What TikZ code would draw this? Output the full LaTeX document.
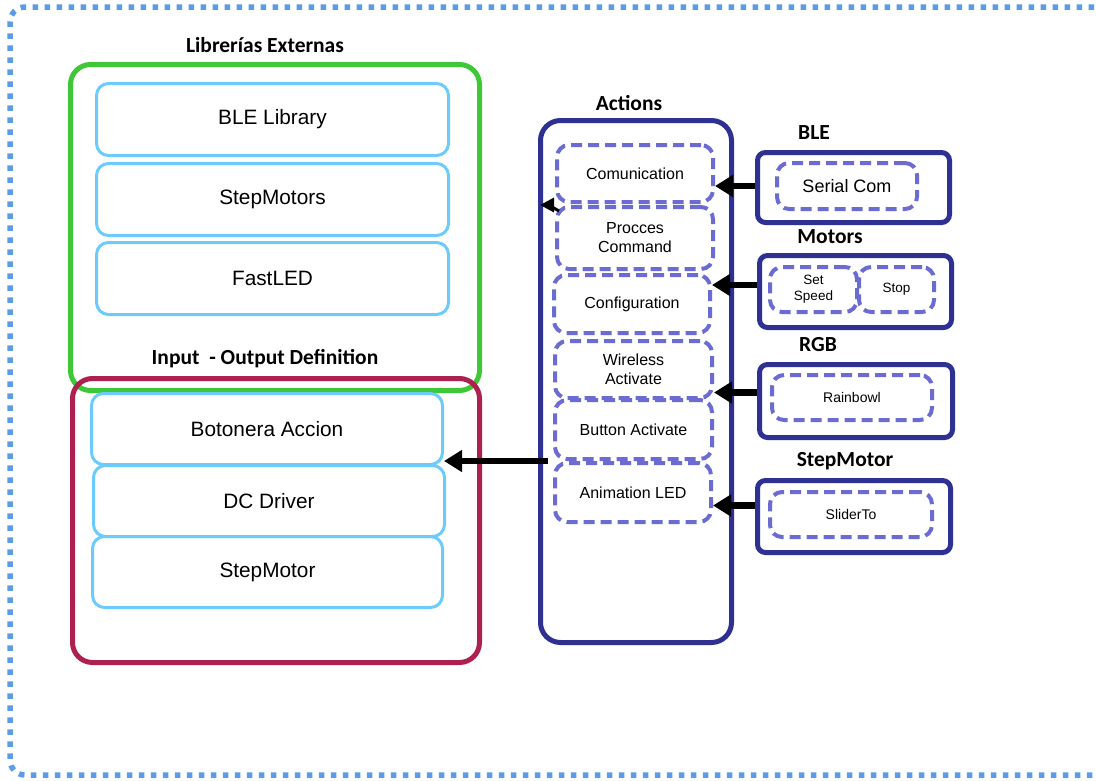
\documentclass[tikz,border=0pt]{standalone}
\usepackage{fontspec}
\setmainfont{Liberation Sans}
\newfontfamily\headfont{Carlito}
\usetikzlibrary{arrows.meta}
\definecolor{frameblue}{HTML}{5B9BE8}
\definecolor{libgreen}{HTML}{3EC838}
\definecolor{boxblue}{HTML}{6CCBFA}
\definecolor{iomaroon}{HTML}{AD2150}
\definecolor{navy}{HTML}{2E3192}
\definecolor{dashpurple}{HTML}{6B6BD2}
\begin{document}
\begin{tikzpicture}[x=1pt,y=-1pt,
  heading/.style={font=\headfont\bfseries\fontsize{21.5}{24}\selectfont},
  groupbox/.style={draw=#1, line width=5pt, rounded corners=20pt, anchor=north west},
  libbox/.style={draw=boxblue, line width=3pt, rounded corners=12pt, anchor=north west,
    minimum width=352pt, minimum height=72pt, font=\fontsize{20.8}{24}\selectfont},
  actbox/.style={draw=dashpurple, dash pattern=on 11pt off 6pt, line width=4pt,
    rounded corners=12pt, anchor=north west, align=center, inner sep=0pt,
    font=\fontsize{16}{19}\selectfont},
  srcbox/.style={draw=navy, line width=5pt, rounded corners=8pt, anchor=north west,
    minimum width=192pt, minimum height=70pt},
  link/.style={-{Triangle[length=18pt,width=21pt]}, line width=6.5pt, draw=black},
  small link/.style={-{Triangle[length=14pt,width=14pt]}, line width=3pt, draw=black}
]
\useasboundingbox (0,0) rectangle (1096,780);

% dotted frame round the whole drawing
\draw[frameblue, line width=5.5pt, dash pattern=on 5.5pt off 6.5pt, rounded corners=15pt]
  (1130,7) -- (10,7) -- (10,775) -- (1130,775);

% external libraries
\node[heading] (libtitle) at (265,45) {Librerías Externas};
\node[groupbox=libgreen, minimum width=409pt, minimum height=326pt] (libs) at (68,62) {};
\node[libbox] (blelib) at (95,82) {BLE Library};
\node[libbox] (stepmotors) at (95,162) {StepMotors};
\node[libbox] (fastled) at (95,241) {FastLED};

% input / output definition
\node[heading] (iotitle) at (265,359) {Input\ \ - Output Definition};
\node[groupbox=iomaroon, minimum width=407pt, minimum height=284pt] (io) at (70,376) {};
\node[libbox, minimum width=351pt, minimum height=71pt] (botonera) at (90,392) {Botonera Accion};
\node[libbox, minimum width=351pt, minimum height=71pt] (dcdriver) at (92,464) {DC Driver};
\node[libbox, minimum width=350pt, minimum height=71pt] (stepmotor) at (91,535) {StepMotor};

% actions
\node[heading] (acttitle) at (629,103) {Actions};
\node[groupbox=navy, minimum width=191pt, minimum height=522pt] (actions) at (538,118) {};
\node[actbox, minimum width=156pt, minimum height=57pt] (comm) at (555,143) {Comunication};
\node[actbox, minimum width=156pt, minimum height=62pt] (proc) at (555,205) {Procces\\Command};
\node[actbox, minimum width=156pt, minimum height=58pt] (config) at (552,273) {Configuration};
\node[actbox, minimum width=157pt, minimum height=57pt] (wireless) at (553,339) {Wireless\\Activate};
\node[actbox, minimum width=157pt, minimum height=59pt] (btnact) at (553,398) {Button Activate};
\node[actbox, minimum width=156pt, minimum height=59pt] (anim) at (553,461) {Animation LED};

% BLE
\node[heading] (bletitle) at (814,133) {BLE};
\node[srcbox] (ble) at (755,150) {};
\node[actbox, minimum width=140pt, minimum height=46pt, font=\fontsize{18}{21}\selectfont] (serial) at (775,161) {Serial Com};

% Motors
\node[heading] (motorstitle) at (830,237) {Motors};
\node[srcbox, minimum height=72pt] (motors) at (757,253) {};
\node[actbox, minimum width=87pt, minimum height=45pt, font=\fontsize{13.5}{16}\selectfont] (setspeed) at (768,265) {Set\\Speed};
\node[actbox, minimum width=75pt, minimum height=45pt, font=\fontsize{13.5}{16}\selectfont] (stop) at (857,265) {Stop};

% RGB
\node[heading] (rgbtitle) at (818,345) {RGB};
\node[srcbox, minimum width=193pt, minimum height=73pt] (rgb) at (757,362) {};
\node[actbox, minimum width=160pt, minimum height=45pt, font=\fontsize{14}{16}\selectfont] (rainbowl) at (770,373) {Rainbowl};

% StepMotor
\node[heading] (smtitle) at (845,461) {StepMotor};
\node[srcbox, minimum width=193pt, minimum height=72pt] (sm) at (755,478) {};
\node[actbox, minimum width=162pt, minimum height=45pt, font=\fontsize{14}{16}\selectfont] (slider) at (768,490) {SliderTo};

% connectors
\draw[link] (ble.west |- serial.center) -- (comm.east |- serial.center);
\draw[link] ([yshift=4.5pt]motors.west |- setspeed.center) -- ([yshift=4.5pt]config.east |- setspeed.center);
\draw[link] ([yshift=5pt]rgb.west |- rainbowl.center) -- ([yshift=5pt]wireless.east |- rainbowl.center);
\draw[link] ([yshift=9pt]sm.west |- slider.center) -- ([yshift=9pt]anim.east |- slider.center);
\draw[link] ([xshift=10pt]actions.west |- btnact.south) -- (botonera.east |- btnact.south);
\draw[small link] ([xshift=4pt,yshift=-6pt]proc.north west) to[out=150,in=0] ([xshift=2pt]actions.west |- proc.north);
\end{tikzpicture}
\end{document}
